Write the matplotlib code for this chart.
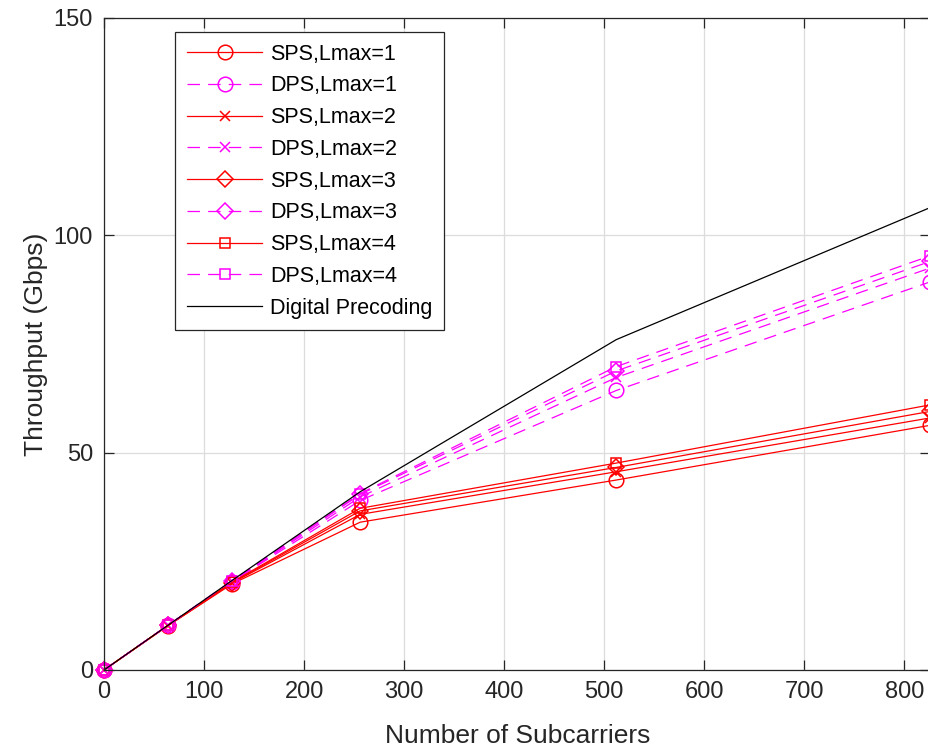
import numpy as np
import matplotlib
matplotlib.use("Agg")
import matplotlib.pyplot as plt

plt.rcParams['font.family'] = ['Liberation Sans', 'DejaVu Sans']

# subcarrier counts (last point sits on the right edge of the axes)
subcarriers = [0, 64, 128, 256, 512, 826]

sps_1 = [0, 10.2, 19.8, 34.0, 43.7, 56.3]
sps_2 = [0, 10.2, 20.0, 35.8, 45.6, 58.0]
sps_3 = [0, 10.3, 20.1, 36.6, 46.6, 59.5]
sps_4 = [0, 10.3, 20.2, 37.2, 47.6, 61.0]
dps_1 = [0, 10.3, 20.3, 39.0, 64.3, 89.3]
dps_2 = [0, 10.3, 20.4, 39.8, 67.3, 92.5]
dps_3 = [0, 10.3, 20.5, 40.4, 68.8, 94.0]
dps_4 = [0, 10.3, 20.5, 40.6, 69.8, 95.3]
digital = [0, 10.3, 20.6, 41.0, 76.0, 106.4]

series = [
    ("SPS,Lmax=1", sps_1, "red", "-", "o", 10.5),
    ("DPS,Lmax=1", dps_1, "magenta", "--", "o", 10.5),
    ("SPS,Lmax=2", sps_2, "red", "-", "x", 7.5),
    ("DPS,Lmax=2", dps_2, "magenta", "--", "x", 7.5),
    ("SPS,Lmax=3", sps_3, "red", "-", "D", 8.5),
    ("DPS,Lmax=3", dps_3, "magenta", "--", "D", 8.5),
    ("SPS,Lmax=4", sps_4, "red", "-", "s", 7.5),
    ("DPS,Lmax=4", dps_4, "magenta", "--", "s", 7.5),
]

fig = plt.figure(figsize=(9.29, 7.49), dpi=100)
ax = fig.add_axes([0.112, 0.1055, 0.8895, 0.8705])

for label, vals, color, ls, mk, ms in series:
    ax.plot(subcarriers, vals, color=color, linestyle=ls,
            dashes=(10, 6.5) if ls == "--" else (None, None),
            marker=mk, markersize=ms, markerfacecolor="none", markeredgecolor=color,
            markeredgewidth=1.1, linewidth=0.9, label=label, clip_on=False)
ax.plot(subcarriers, digital, color="black", linewidth=0.9, label="Digital Precoding")

ax.set_xlim(0, 826)
ax.set_ylim(0, 150)
ax.set_xticks(range(0, 801, 100))
ax.set_yticks([0, 50, 100, 150])
ax.grid(True, color="#dcdcdc", linewidth=0.9)
ax.set_axisbelow(True)
ax.tick_params(direction="in", top=True, right=True, labelsize=17, colors="#262626",
               length=7, width=0.9, pad=8)
for sp in ax.spines.values():
    sp.set_color("#262626")
    sp.set_linewidth(0.9)

ax.set_xlabel("Number of Subcarriers", fontsize=19, color="#262626", labelpad=15)
ax.set_ylabel("Throughput (Gbps)", fontsize=19, color="#262626", labelpad=4)

leg = ax.legend(loc="upper left", bbox_to_anchor=(0.086, 0.979), fontsize=15.5,
                handlelength=3.5, labelspacing=0.5, borderpad=0.55, handletextpad=0.35,
                fancybox=False, framealpha=1, edgecolor="#262626", borderaxespad=0)
leg.get_frame().set_linewidth(0.9)

fig.savefig("out.png", dpi=100)
